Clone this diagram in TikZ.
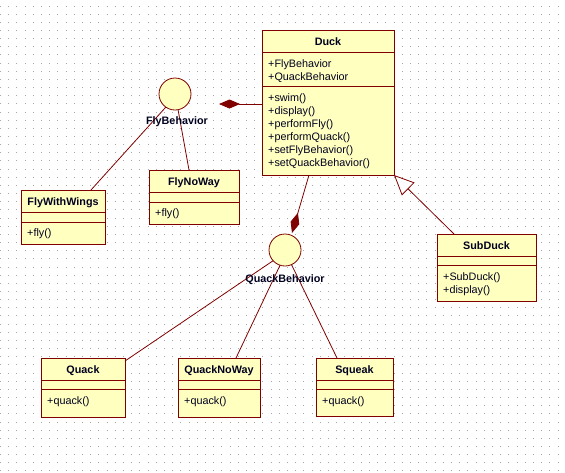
\documentclass[tikz,border=0pt]{standalone}
\usepackage{fontspec}
\setmainfont{Liberation Sans}
\usetikzlibrary{positioning,arrows.meta}

\definecolor{umlred}{RGB}{128,0,0}
\definecolor{umlfill}{RGB}{255,255,192}
\definecolor{umltext}{RGB}{0,0,32}
\definecolor{gridgray}{RGB}{168,168,168}

% class box: name, north west, width, height, attribute part, title, attributes, operations
\newcommand{\umlclass}[8]{%
	\node[classbox, minimum width=#3, minimum height=#4, anchor=north west] (#1) at #2 {};
	\draw[umlline] ([yshift=-22.5pt]#1.north west) -- ([yshift=-22.5pt]#1.north east);
	\draw[umlline] ([yshift={-22.5pt-#5}]#1.north west) -- ([yshift={-22.5pt-#5}]#1.north east);
	\node[classname] at ([yshift=-15.5pt]#1.north) {#6};
	\node[members] at ([xshift=6pt,yshift=-28pt]#1.north west) {\rule{0pt}{9pt}#7};
	\node[members] at ([xshift=6pt,yshift={-28pt-#5}]#1.north west) {\rule{0pt}{9pt}#8};
}

\begin{document}
\begin{tikzpicture}[x=1pt, y=-1pt,
	griddots/.style={draw=gridgray, line width=1pt, dash pattern=on 1pt off 7.2pt},
	classbox/.style={draw=umlred, fill=umlfill, line width=1pt, inner sep=0, outer sep=0},
	umlline/.style={draw=umlred, line width=0.8pt},
	classname/.style={anchor=base, inner sep=0, text=umltext, font=\bfseries\fontsize{10.8}{13}\selectfont},
	members/.style={anchor=north west, inner sep=0, align=left, text=umltext, font=\fontsize{10.8}{13}\selectfont},
	iface/.style={circle, draw=umlred, fill=umlfill, line width=0.8pt, minimum size=32pt, inner sep=0, outer sep=0},
	ifacename/.style={inner sep=0, text=umltext, font=\bfseries\fontsize{10.8}{13}\selectfont},
	comp/.style={umlline, -{Diamond[length=21pt, width=9pt]}},
	gen/.style={umlline, -{Triangle[open, length=20pt, width=18pt, fill=white]}}]
	\useasboundingbox (0,0) rectangle (565,472);
	\fill[white] (0,0) rectangle (565,472);
	\foreach \r in {0,...,57}
		\draw[griddots] (0,6+\r*8.157) -- (565,6+\r*8.157);

	\umlclass{duck}{(262,30)}{132}{145}{34pt}{Duck}{+FlyBehavior\\+QuackBehavior}{+swim()\\+display()\\+performFly()\\+performQuack()\\+setFlyBehavior()\\+setQuackBehavior()}
	\umlclass{flywings}{(21,190)}{84}{54}{9.5pt}{FlyWithWings}{}{+fly()}
	\umlclass{flynoway}{(149,170)}{90}{54}{9.5pt}{FlyNoWay}{}{+fly()}
	\umlclass{subduck}{(437,234)}{99}{67}{9pt}{SubDuck}{}{+SubDuck()\\+display()}
	\umlclass{quack}{(41,358)}{84}{59}{9pt}{Quack}{}{+quack()}
	\umlclass{quacknoway}{(178,358)}{82}{59}{9pt}{QuackNoWay}{}{+quack()}
	\umlclass{squeak}{(316,358)}{77}{58}{9pt}{Squeak}{}{+quack()}

	\node[iface] (flyb) at (175,94) {};
	\node[iface] (quackb) at (285,250) {};

	\draw[umlline] ([xshift=70pt]flywings.north west) -- (flyb.235);
	\draw[umlline] ([xshift=40pt]flynoway.north west) -- (flyb.281);
	\draw[umlline] ([yshift=-3pt]quack.north east) -- (quackb.222);
	\draw[umlline] ([xshift=58pt]quacknoway.north west) -- (quackb.252);
	\draw[umlline] ([xshift=21pt]squeak.north west) -- (quackb.294);

	\coordinate (flyend) at (219,104);
	\coordinate (quackend) at (292,233);
	\draw[comp] (duck.west |- flyend) -- (flyend);
	\draw[comp] ([xshift=-19pt]duck.south) -- (quackend);
	\draw[gen] ([xshift=17pt]subduck.north west) -- (duck.south east);

	\node[ifacename, below=6.5pt of flyb, xshift=2pt] (flyname) {FlyBehavior};
	\node[ifacename, below=8pt of quackb] (quackname) {QuackBehavior};
\end{tikzpicture}
\end{document}
